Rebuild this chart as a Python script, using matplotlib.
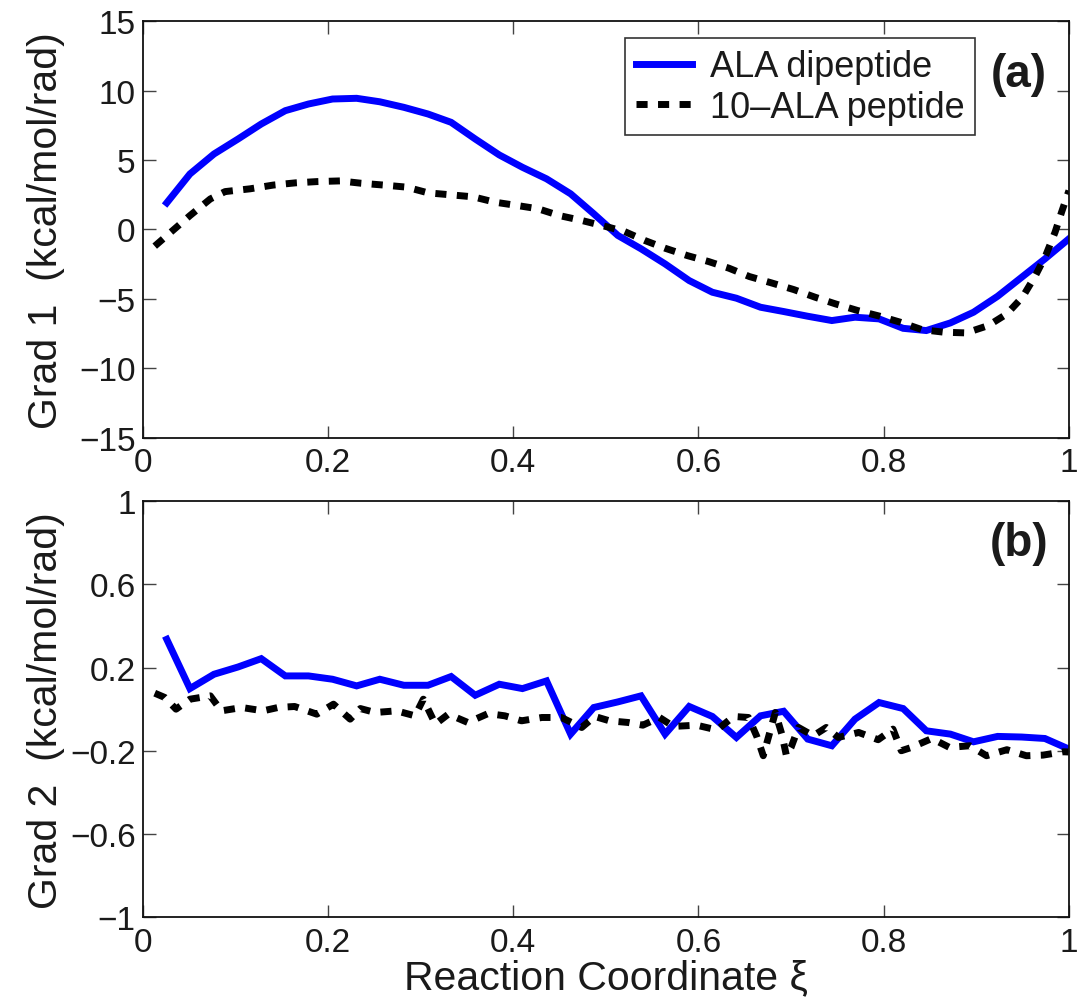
import matplotlib
matplotlib.use("Agg")
import matplotlib.pyplot as plt
from matplotlib.ticker import FixedLocator

plt.rcParams['font.family'] = ['Liberation Sans', 'DejaVu Sans']
plt.rcParams['axes.unicode_minus'] = True

# ---------------- data ----------------
# Panel (a): Grad 1
ala_x = [0.026, 0.051, 0.077, 0.103, 0.128, 0.154, 0.179, 0.205, 0.231, 0.256,
         0.282, 0.308, 0.333, 0.359, 0.385, 0.410, 0.436, 0.462, 0.487, 0.513,
         0.538, 0.564, 0.590, 0.615, 0.641, 0.667, 0.692, 0.718, 0.744, 0.769,
         0.795, 0.821, 0.846, 0.872, 0.897, 0.923, 0.949, 0.974, 1.000]
ala_g1 = [1.92, 4.00, 5.44, 6.52, 7.60, 8.56, 9.04, 9.40, 9.45, 9.20,
          8.80, 8.32, 7.72, 6.52, 5.37, 4.48, 3.65, 2.57, 1.13, -0.43,
          -1.39, -2.48, -3.68, -4.52, -4.95, -5.60, -5.91, -6.25, -6.56, -6.32,
          -6.44, -7.12, -7.28, -6.73, -5.96, -4.81, -3.44, -2.12, -0.67]

pep_x1 = [0.013, 0.051, 0.073, 0.089, 0.116, 0.141, 0.165, 0.188, 0.213, 0.236,
          0.262, 0.285, 0.308, 0.332, 0.357, 0.380, 0.404, 0.427, 0.450, 0.474,
          0.498, 0.520, 0.542, 0.564, 0.588, 0.611, 0.633, 0.655, 0.679, 0.703,
          0.726, 0.748, 0.772, 0.796, 0.818, 0.841, 0.865, 0.889, 0.913, 0.933,
          0.950, 0.964, 0.975, 0.985, 0.992, 1.000]
pep_g1 = [-1.20, 1.00, 2.20, 2.73, 2.93, 3.20, 3.36, 3.45, 3.50, 3.33,
          3.19, 3.05, 2.64, 2.50, 2.35, 1.97, 1.73, 1.49, 1.00, 0.65,
          0.25, -0.14, -0.79, -1.35, -1.88, -2.31, -2.79, -3.39, -3.85, -4.33,
          -4.88, -5.36, -5.84, -6.25, -6.68, -7.21, -7.40, -7.45, -6.92, -6.08,
          -4.86, -3.30, -1.86, -0.20, 1.24, 2.80]

# Panel (b): Grad 2
ala_g2 = [0.336, 0.099, 0.168, 0.203, 0.243, 0.160, 0.160, 0.144, 0.112, 0.144,
          0.115, 0.115, 0.157, 0.067, 0.120, 0.099, 0.136, -0.120, 0.008, 0.035,
          0.064, -0.120, 0.013, -0.035, -0.136, -0.032, -0.010, -0.144, -0.176, -0.048,
          0.032, 0.003, -0.104, -0.120, -0.157, -0.131, -0.134, -0.141, -0.192]

pep_x2 = [0.013, 0.024, 0.036, 0.051, 0.073, 0.085, 0.107, 0.130, 0.146, 0.164,
          0.188, 0.206, 0.224, 0.235, 0.251, 0.274, 0.294, 0.303, 0.316, 0.330,
          0.351, 0.373, 0.391, 0.409, 0.431, 0.452, 0.474, 0.488, 0.504, 0.524,
          0.540, 0.558, 0.573, 0.598, 0.620, 0.638, 0.654, 0.663, 0.670, 0.676,
          0.683, 0.690, 0.695, 0.700, 0.708, 0.724, 0.738, 0.751, 0.773, 0.794,
          0.810, 0.819, 0.830, 0.852, 0.871, 0.893, 0.911, 0.933, 0.954, 0.972,
          0.994, 1.000]
pep_g2 = [0.077, 0.056, 0.000, 0.048, 0.064, -0.008, 0.008, -0.008, 0.008, 0.013,
          -0.024, 0.024, -0.048, 0.003, -0.016, -0.008, -0.032, 0.048, -0.072, -0.024,
          -0.064, -0.021, -0.032, -0.056, -0.040, -0.040, -0.088, -0.035, -0.056, -0.064,
          -0.077, -0.040, -0.083, -0.077, -0.100, -0.035, -0.040, -0.131, -0.224, -0.128,
          -0.016, -0.120, -0.224, -0.184, -0.088, -0.128, -0.088, -0.136, -0.112, -0.147,
          -0.096, -0.200, -0.184, -0.141, -0.184, -0.176, -0.224, -0.195, -0.224, -0.221,
          -0.205, -0.206]

series_labels = ['ALA dipeptide', '10\u2013ALA peptide']
x_ticks = [0, 0.2, 0.4, 0.6, 0.8, 1]
x_ticklabels = ['0', '0.2', '0.4', '0.6', '0.8', '1']
y1_ticks = [-15, -10, -5, 0, 5, 10, 15]
y1_ticklabels = ['\u221215', '\u221210', '\u22125', '0', '5', '10', '15']
y2_ticks = [-1, -0.6, -0.2, 0.2, 0.6, 1]
y2_ticklabels = ['\u22121', '\u22120.6', '\u22120.2', '0.2', '0.6', '1']

# ---------------- figure ----------------
fig = plt.figure(figsize=(10.85, 10.03), dpi=100)
ax1 = fig.add_axes([0.1315, 0.5626, 0.8537, 0.4152])
ax2 = fig.add_axes([0.1315, 0.0847, 0.8537, 0.4145])

LW = 5.0
dash = (0, (1.6, 1.5))
TICK_FS = 24
LABEL_FS = 29.5
LEG_FS = 26
TXT = '#1a1a1a'

for ax in (ax1, ax2):
    ax.set_xlim(0, 1)
    ax.xaxis.set_major_locator(FixedLocator(x_ticks))
    ax.set_xticklabels(x_ticklabels)
    ax.tick_params(direction='in', length=9, width=1.0, color='#444444',
                   top=True, right=True, labelsize=TICK_FS, labelcolor=TXT)
    ax.tick_params(axis='x', pad=7)
    ax.tick_params(axis='y', pad=5)
    for sp in ax.spines.values():
        sp.set_linewidth(1.3)
        sp.set_color('#111111')

# panel (a)
ax1.plot(ala_x, ala_g1, color='#0000ff', lw=LW, solid_joinstyle='miter',
         label=series_labels[0])
ax1.plot(pep_x1, pep_g1, color='black', lw=LW, linestyle=dash,
         dash_capstyle='butt', label=series_labels[1])
ax1.set_ylim(-15, 15)
ax1.yaxis.set_major_locator(FixedLocator(y1_ticks))
ax1.set_yticklabels(y1_ticklabels)
ax1.set_ylabel('Grad 1  (kcal/mol/rad)', fontsize=LABEL_FS, color=TXT)
ax1.yaxis.set_label_coords(-0.084, 0.5)
leg = ax1.legend(loc='upper right', bbox_to_anchor=(0.899, 0.959),
                 borderaxespad=0, fontsize=LEG_FS, frameon=True, fancybox=False,
                 edgecolor='black', handlelength=1.55, handletextpad=0.5,
                 borderpad=0.3, labelspacing=0.15)
leg.get_frame().set_linewidth(1.2)
for t in leg.get_texts():
    t.set_color(TXT)
ax1.text(0.946, 0.873, '(a)', transform=ax1.transAxes, fontsize=33,
         fontweight='bold', ha='center', va='center', color=TXT)

# panel (b)
ax2.plot(ala_x, ala_g2, color='#0000ff', lw=LW, solid_joinstyle='miter')
ax2.plot(pep_x2, pep_g2, color='black', lw=LW, linestyle=dash,
         dash_capstyle='butt')
ax2.set_ylim(-1, 1)
ax2.yaxis.set_major_locator(FixedLocator(y2_ticks))
ax2.set_yticklabels(y2_ticklabels)
ax2.set_ylabel('Grad 2  (kcal/mol/rad)', fontsize=LABEL_FS, color=TXT)
ax2.yaxis.set_label_coords(-0.084, 0.5)
ax2.set_xlabel('Reaction Coordinate \u03be', fontsize=LABEL_FS, color=TXT,
               labelpad=0)
ax2.text(0.946, 0.90, '(b)', transform=ax2.transAxes, fontsize=33,
         fontweight='bold', ha='center', va='center', color=TXT)

fig.savefig('out.png', dpi=100)
